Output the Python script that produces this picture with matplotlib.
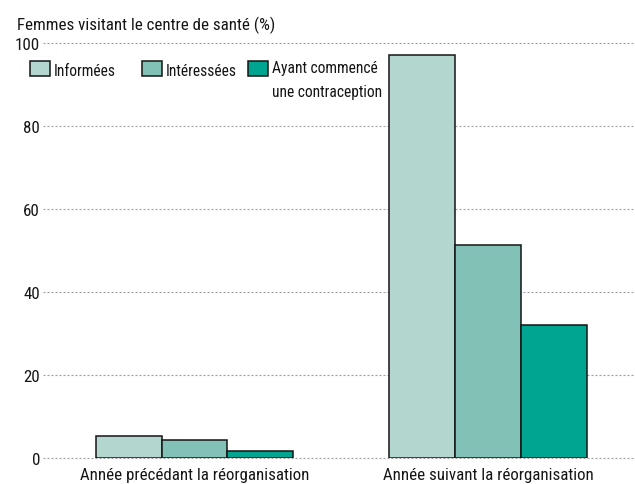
import matplotlib
matplotlib.use("Agg")
import matplotlib.pyplot as plt
from matplotlib.patches import Rectangle
from matplotlib import font_manager
import numpy as np

names = {f.name for f in font_manager.fontManager.ttflist}
MAIN = "DejaVu Sans"
for cand in ["Roboto Condensed", "Archivo Narrow", "PT Sans Narrow", "Fira Sans Condensed",
             "Asap Condensed", "Barlow Semi Condensed", "Roboto"]:
    if cand in names:
        MAIN = cand
        break
plt.rcParams['font.family'] = [MAIN, "DejaVu Sans"]

categories = ["Année précédant la réorganisation", "Année suivant la réorganisation"]
series = ["Informées", "Intéressées", "Ayant commencé\nune contraception"]
informees = [5.3, 97.2]
interessees = [4.2, 51.3]
contraception = [1.6, 32.1]
yticks = [0, 20, 40, 60, 80, 100]
ylabel = "Femmes visitant le centre de santé (%)"

colors = ["#b3d7cf", "#82c1b6", "#00a591"]
values = [informees, interessees, contraception]

W, H = 635, 485
fig = plt.figure(figsize=(W / 100, H / 100), dpi=100)

# fit font size so the first category label has the reference width (~227 px)
renderer = fig.canvas.get_renderer()
probe = fig.text(0, 0, categories[0], fontsize=10)
pw = probe.get_window_extent(renderer).width
probe.remove()
FS = 10 * 227.0 / pw
LFS = FS * 0.92

y0, y100 = 458.7, 44.3
ax = fig.add_axes([43 / W, (H - y0) / H, 1 - 43 / W, (y0 - y100) / H])

w = 0.2245
x = np.arange(len(categories))
for i, (vals, c) in enumerate(zip(values, colors)):
    ax.bar(x + (i - 1) * w, vals, width=w, color=c, edgecolor="#151515", linewidth=1.1, zorder=3)

ax.set_xlim(-0.516, 1.501)
ax.set_ylim(0, 100)
ax.set_yticks(yticks)
ax.set_yticklabels([str(t) for t in yticks], fontsize=FS)
ax.set_xticks(x)
ax.set_xticklabels(categories, fontsize=FS)
ax.tick_params(axis="y", length=0, pad=2.2, colors="#151515")
ax.tick_params(axis="x", length=0, pad=7, colors="#151515")
for s in ax.spines.values():
    s.set_visible(False)
ax.yaxis.grid(True, color="#a0a0a0", linestyle=(0, (1.8, 1.8)), linewidth=0.8, zorder=0)
for gl in ax.get_ygridlines():
    gl.set_clip_on(False)
ax.set_axisbelow(True)

fig.text(17.3 / W, 1 - 30 / H, ylabel, fontsize=FS, ha="left", va="baseline", color="#151515")

# legend
leg_x = [29.5, 141.7, 247.8]
for lx, lab, c in zip(leg_x, series, colors):
    fig.patches.append(Rectangle((lx / W, 1 - 76.5 / H), 20 / W, 14.5 / H, transform=fig.transFigure,
                                 facecolor=c, edgecolor="#151515", linewidth=1.1))
    nl = lab.count("\n")
    fig.text((lx + 24) / W, 1 - (75.5 + 21.5 * nl) / H, lab, fontsize=LFS, ha="left", va="baseline",
             color="#151515", linespacing=1.78)

fig.savefig("out.png", dpi=100)
